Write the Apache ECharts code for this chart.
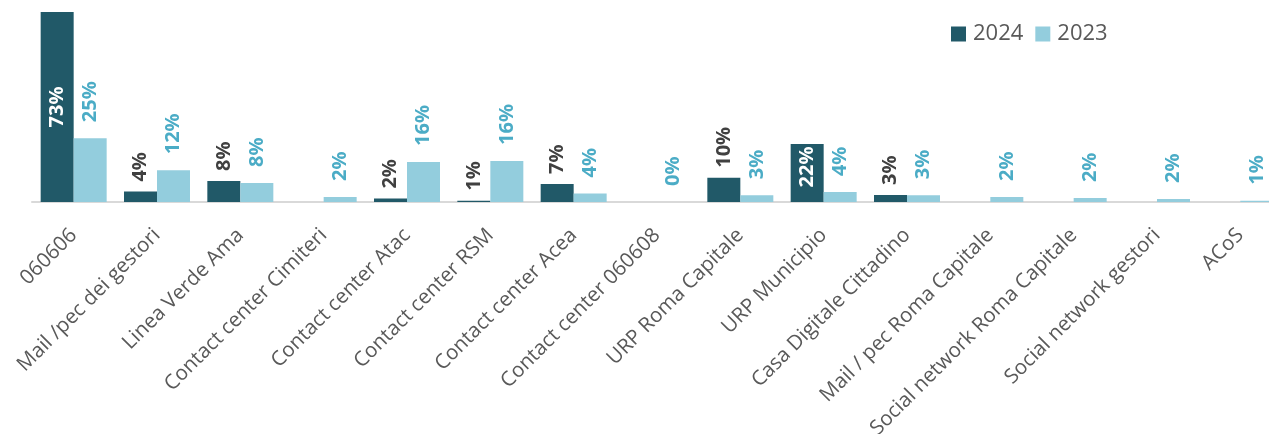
<!DOCTYPE html>
<html>
<head>
<meta charset="utf-8">
<script src="https://cdn.jsdelivr.net/npm/echarts@6/dist/echarts.min.js"></script>
<style>
html,body{margin:0;padding:0;background:#fff;}
#chart{width:1269px;height:434px;}
</style>
</head>
<body>
<div id="chart"></div>
<script>
const categories = ['060606','Mail /pec dei gestori','Linea Verde Ama','Contact center Cimiteri','Contact center Atac','Contact center RSM','Contact center Acea','Contact center 060608','URP Roma Capitale','URP Municipio','Casa Digitale Cittadino','Mail / pec Roma Capitale','Social network Roma Capitale','Social network gestori','ACoS'];
const values2024 = [73, 4.0, 8.1, null, 1.3, 0.5, 6.9, null, 9.3, 22.3, 2.7, null, null, null, null];
const values2023 = [24.5, 12.2, 7.3, 1.9, 15.4, 15.8, 3.3, 0, 2.6, 3.8, 2.6, 1.9, 1.5, 1.2, 0.5];
const labels2024 = ['73%','4%','8%','','2%','1%','7%','','10%','22%','3%','','','',''];
const labels2023 = ['25%','12%','8%','2%','16%','16%','4%','0%','3%','4%','3%','2%','2%','2%','1%'];
const insideLabels2024 = [0, 9]; // indices whose label sits inside the bar

const FONT = '"Open Sans", sans-serif';
const chart = echarts.init(document.getElementById('chart'), null, {renderer:'canvas'});

const data2024 = values2024.map((v, i) => {
  if (v === null) return {value: null};
  const inside = insideLabels2024.includes(i);
  return {
    value: v,
    label: inside ? {position:'inside', color:'#ffffff', align:'center', verticalAlign:'middle', offset: [i === 9 ? 6 : 0, 0]} : {}
  };
});

chart.setOption({
  animation: false,
  backgroundColor: '#ffffff',
  legend: {
    data: ['2024','2023'],
    left: 946, top: 18,
    itemWidth: 15, itemHeight: 15, itemGap: 12,
    icon: 'rect',
    textStyle: {fontFamily: FONT, fontSize: 22, color: '#595959', lineHeight: 22, padding: [0,0,0,2]}
  },
  grid: {left: 32, width: 1250, top: 12, height: 190, containLabel: false, outerBoundsMode: 'none'},
  xAxis: {
    type: 'category',
    data: categories,
    axisLine: {show: true, lineStyle: {color: '#D9D9D9', width: 2}},
    axisTick: {show: false},
    axisLabel: {interval: 0, rotate: 45, fontFamily: FONT, fontSize: 20.5, color: '#595959', margin: 30}
  },
  yAxis: {type: 'value', min: 0, max: 73, show: false, splitLine: {show: false}},
  series: [
    {
      name: '2024', type: 'bar', barWidth: 33, barGap: '0%',
      itemStyle: {color: '#215968'},
      data: data2024,
      label: {
        show: true, position: 'top', rotate: 90, align: 'left', verticalAlign: 'middle', distance: 10,
        fontFamily: FONT, fontSize: 20, fontWeight: 'bold', color: '#404040',
        formatter: p => labels2024[p.dataIndex]
      }
    },
    {
      name: '2023', type: 'bar', barWidth: 33,
      itemStyle: {color: '#93CDDD'},
      data: values2023,
      label: {
        show: true, position: 'top', rotate: 90, align: 'left', verticalAlign: 'middle', distance: 16,
        fontFamily: FONT, fontSize: 20, fontWeight: 'bold', color: '#4BACC6',
        formatter: p => labels2023[p.dataIndex]
      }
    }
  ]
});
</script>
</body>
</html>
